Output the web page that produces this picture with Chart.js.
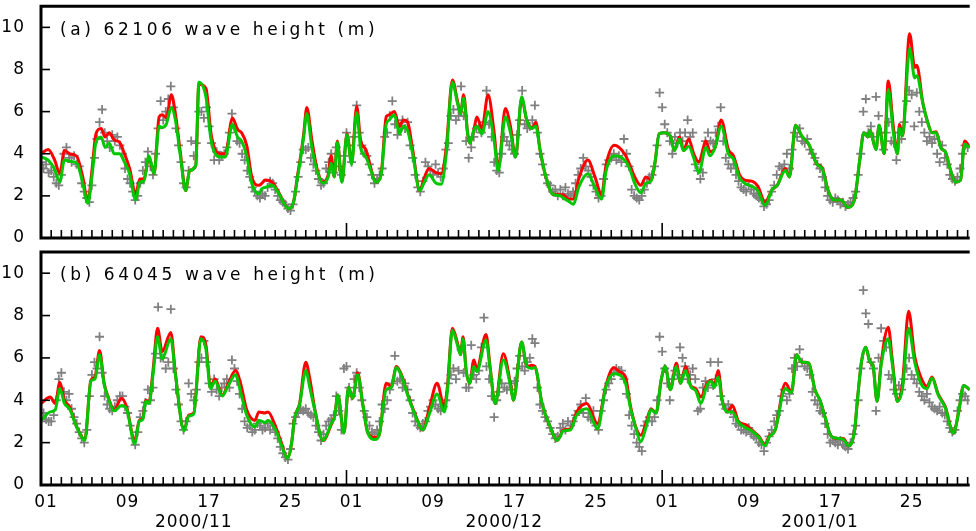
<!DOCTYPE html>
<html>
<head>
<meta charset="utf-8">
<script src="https://cdn.jsdelivr.net/npm/chart.js@4.4.1/dist/chart.umd.min.js"></script>
<style>
  body { margin: 0; background: #fff; }
  #wrap { position: relative; width: 976px; height: 531px; overflow: hidden; }
  canvas { position: absolute; left: 0; }
  .ttl { position: absolute; left: 60px; font: 17px "DejaVu Sans"; line-height: 20px; letter-spacing: 3.6px; white-space: nowrap; color: #000; }
</style>
</head>
<body>
<div id="wrap">
  <canvas id="chartA" width="976" height="245" style="top:0"></canvas>
  <canvas id="chartB" width="976" height="286" style="top:245px"></canvas>
  <div class="ttl" style="top:19px">(a) 62106 wave height (m)</div>
  <div class="ttl" style="top:264px">(b) 64045 wave height (m)</div>
</div>
<script>
// time axis: days since 2000/11/01 00:00
const xTickPos = [0.5, 8.5, 15, 16.5, 24.5, 30.5, 38.5, 45.5, 46.5, 54.5, 61.5, 69.5, 76.5, 77.5, 85.5];
const xTickText = ['01', '09', ['', '2000/11'], '17', '25', '01', '09', ['', '2000/12'], '17', '25', '01', '09', ['', '2001/01'], '17', '25'];
const monthStarts = [0, 30, 61];
const yTicks = [0, 2, 4, 6, 8, 10];
const OBS_STEP = 0.25;

// (a) 62106
const topT = [0.0,0.7,1.3,1.85,2.3,2.8,3.3,3.6,4.1,4.6,
  5.0,5.4,5.9,6.3,6.7,7.2,7.7,8.2,8.7,9.3,
  9.7,10.1,10.6,11.1,11.6,11.9,12.3,12.8,13.2,13.7,
  14.2,14.6,15.2,15.5,16.2,16.7,17.1,17.6,18.1,18.8,
  19.3,19.7,20.2,20.7,21.4,21.7,22.0,22.7,23.3,24.3,
  24.8,25.2,25.5,25.8,26.1,26.6,27.1,27.7,28.2,28.5,
  28.8,29.1,29.55,30.05,30.5,31.0,31.4,31.9,32.4,32.85,
  33.4,33.9,34.2,34.7,35.2,35.6,36.0,36.5,37.2,37.6,
  38.1,38.8,39.3,39.8,40.4,40.9,41.2,41.5,41.9,42.1,
  42.5,42.8,43.3,43.9,44.5,44.9,45.6,46.1,46.6,47.2,
  47.7,48.2,48.6,49.0,49.5,50.2,51.0,51.3,51.8,52.3,
  52.8,53.7,54.4,55.05,55.5,56.3,57.3,57.8,58.3,58.9,
  59.4,59.9,60.3,60.7,61.2,61.8,62.2,62.7,63.1,63.6,
  64.1,64.6,65.3,65.7,66.2,66.8,67.5,68.0,68.6,69.1,
  69.8,70.4,71.1,71.8,72.3,73.1,73.5,74.1,74.7,75.4,
  76.2,76.7,77.3,77.9,78.6,79.2,79.9,80.4,80.8,81.2,
  81.4,82.0,82.3,82.8,83.2,83.7,84.1,84.3,84.6,85.3,
  85.8,86.0,86.6,87.1,87.5,87.9,88.4,88.8,89.3,89.8,
  90.3,90.7,91.2];
const topRed = [4.0,4.2,3.75,3.07,4.15,4.0,3.95,3.8,2.9,1.7,
  3.2,4.95,5.2,4.8,5.0,4.65,4.55,4.0,3.3,2.1,
  2.8,2.8,3.85,3.05,5.75,5.85,5.7,6.8,5.9,4.0,
  2.25,3.2,3.45,7.3,7.1,4.95,4.2,4.0,4.0,5.7,
  5.15,5.0,4.4,2.9,2.5,2.6,2.75,2.65,2.2,1.4,
  1.7,3.0,3.9,4.95,6.2,4.65,3.3,2.65,3.0,3.9,
  2.9,4.6,2.67,4.95,3.6,6.25,4.6,4.2,3.3,2.65,
  3.05,5.75,5.85,6.0,5.3,5.6,5.5,4.2,2.25,2.8,
  3.3,3.1,3.05,4.3,7.5,6.5,5.9,6.8,4.95,4.5,
  5.1,5.75,5.2,6.8,5.0,3.3,6.15,5.3,3.85,6.6,
  5.6,5.2,5.5,4.2,3.05,2.1,2.05,2.05,1.85,1.85,
  2.8,3.7,2.9,2.05,3.5,4.4,4.0,3.5,2.9,2.5,
  2.9,2.75,3.6,4.95,5.0,4.85,4.15,4.8,4.15,4.7,
  4.0,3.6,4.6,4.1,4.3,5.6,4.2,3.9,3.0,2.75,
  2.7,2.45,1.7,2.3,2.5,3.3,2.9,5.35,4.85,4.45,
  3.5,3.35,2.25,1.8,1.8,1.45,1.85,3.7,5.0,4.8,
  5.1,4.2,5.35,4.0,7.45,5.3,4.0,5.4,4.85,9.7,
  8.1,8.2,6.4,5.45,5.0,5.05,4.25,4.1,3.25,2.65,
  2.75,4.6,4.3];
const topGreen = [3.85,3.7,3.3,2.67,3.7,3.65,3.6,3.5,2.6,1.65,
  2.9,4.55,4.8,4.3,4.5,4.0,4.0,3.6,3.05,1.8,
  2.65,2.7,3.9,3.05,5.3,5.25,5.4,6.2,5.6,3.85,
  2.25,3.2,3.45,7.4,6.7,4.65,4.0,3.85,3.85,5.4,
  4.8,4.6,3.9,2.6,2.1,2.35,2.4,2.5,2.15,1.4,
  1.7,2.9,3.8,4.8,5.9,4.3,3.2,2.6,2.9,3.55,
  2.9,4.55,2.65,4.9,3.5,5.95,4.25,3.85,3.2,2.65,
  3.0,5.4,5.6,5.85,4.95,5.3,5.1,4.0,2.25,2.6,
  3.0,2.6,2.55,4.0,7.4,6.4,5.9,6.65,4.95,4.5,
  5.1,5.3,4.95,6.0,4.6,3.2,5.75,5.0,3.85,6.7,
  5.6,5.2,5.3,4.2,3.05,2.1,2.0,1.9,1.75,1.6,
  2.4,3.05,2.4,1.85,3.2,3.9,3.7,3.3,2.6,2.15,
  2.6,2.7,3.6,4.95,5.0,4.85,4.15,4.7,4.15,4.35,
  3.8,3.1,4.3,3.9,4.3,5.3,4.0,3.75,2.85,2.6,
  2.45,2.25,1.55,2.3,2.5,3.2,2.9,5.35,4.85,4.45,
  3.5,3.3,2.25,1.8,1.8,1.45,1.85,3.7,5.0,4.8,
  5.1,4.2,5.35,4.0,7.05,5.0,4.0,5.2,4.85,9.0,
  7.6,7.7,6.4,5.45,5.0,5.0,4.25,4.1,3.25,2.65,
  2.75,4.45,4.3];
// buoy observations, every 6 h
const topObs = [
  3.6,3.3,3.5,3.1, 3.2,2.9,2.6,2.5, 3.0,4.0,4.3,3.8, 3.6,3.9,3.5,3.4, 2.6,2.2,1.9,1.7,
  2.5,3.8,4.7,5.5, 6.1,5.0,4.6,4.3, 4.9,4.6,4.8,4.4, 4.0,3.3,2.8,2.6, 2.2,1.8,2.0,2.6,
  3.2,3.6,4.1,3.4, 3.0,4.0,5.2,6.5, 5.6,6.0,6.6,7.2, 6.2,5.2,4.4,3.6, 2.6,2.4,3.2,4.6,
  3.9,4.5,6.0,6.0, 5.7,6.2,5.3,4.5, 3.7,4.1,3.7,3.9, 4.0,4.3,5.0,5.9, 5.2,4.6,4.5,4.0,
  3.7,3.2,2.9,2.4, 2.2,2.0,1.9,2.1, 2.0,2.4,2.7,2.6, 2.3,2.0,1.8,1.7, 1.6,1.4,1.3,1.6,
  2.2,2.9,3.6,4.2, 4.2,4.3,3.8,3.5, 3.2,2.8,2.5,2.6, 3.3,3.6,4.0,3.1, 4.3,3.4,3.0,3.9,
  5.0,4.4,3.6,4.8, 6.3,5.0,4.4,4.0, 3.9,3.5,3.0,2.6, 2.8,3.0,3.3,4.8, 5.0,5.8,6.5,5.4,
  4.9,5.3,5.6,5.2, 5.5,4.4,3.8,3.0, 2.4,2.2,2.7,3.6, 3.4,3.2,3.0,3.5, 3.1,2.9,3.3,4.2,
  4.5,5.8,6.1,5.6, 5.8,7.2,5.8,4.6, 3.8,4.3,4.8,5.2, 5.3,5.0,5.5,7.0, 5.4,4.8,3.6,3.2,
  3.1,4.0,4.8,4.6, 4.4,4.2,4.0,4.9, 5.6,7.0,5.4,5.2, 5.3,5.6,6.3,5.0, 4.0,3.5,3.0,2.6,
  2.5,2.2,2.3,2.0, 2.3,2.0,2.4,2.1, 2.0,2.2,2.6,3.0, 3.3,3.8,3.4,3.2, 2.9,2.5,2.2,1.9,
  2.0,2.8,3.5,3.7, 3.8,4.0,3.7,3.9, 3.6,4.7,4.0,3.4, 2.3,2.0,1.9,1.8, 2.0,2.3,2.6,2.9,
  3.0,3.4,4.4,6.9, 6.2,5.4,5.0,4.6, 4.0,4.8,4.5,5.0, 4.6,5.0,5.6,4.8, 5.0,3.5,3.2,2.8,
  3.1,4.6,5.0,4.6, 4.5,5.0,5.3,6.2, 4.6,3.8,3.5,3.3, 3.5,3.0,2.7,2.4, 2.3,2.2,2.5,2.3,
  2.1,2.0,1.9,1.8, 1.5,1.6,1.8,2.2, 2.5,3.0,3.4,3.3, 3.5,4.0,3.3,4.2, 5.0,4.8,5.2,4.6,
  4.5,4.7,4.2,4.0, 3.8,3.5,3.3,2.9, 2.4,2.0,1.8,1.7, 1.9,1.8,1.6,1.7, 1.5,1.6,1.7,1.9,
  2.2,3.0,4.0,6.0, 6.6,5.0,5.3,4.8, 6.7,5.8,5.0,4.2, 5.0,5.5,4.6,4.5, 3.7,5.0,4.7,5.5,
  6.5,7.0,6.8,5.3, 6.9,6.0,5.5,5.0, 4.6,4.8,4.5,4.7, 4.0,3.6,4.4,3.8, 3.5,3.0,2.8,2.7,
  2.9,3.3,4.0,4.4, 4.3];

// (b) 64045
const botT = [0.0,0.9,1.4,1.85,2.3,2.8,3.5,4.3,4.9,5.3,
  5.75,6.2,6.6,7.2,7.9,8.4,9.2,9.65,10.0,10.3,
  10.6,11.0,11.45,11.9,12.75,13.2,14.05,14.5,15.0,15.7,
  16.2,16.65,17.1,17.8,18.4,19.1,19.6,20.2,21.0,21.4,22.0,
  22.3,23.0,23.6,24.2,24.6,24.9,25.4,26.0,26.4,26.9,
  27.7,28.5,28.85,29.15,29.75,30.2,30.6,31.1,31.6,32.1,
  32.8,33.2,33.9,34.4,34.9,35.4,36.0,36.7,37.5,38.1,
  38.9,39.6,39.9,40.4,40.9,41.2,41.45,41.75,42.1,42.5,
  42.8,43.7,44.1,44.6,45.4,46.1,46.4,47.2,47.7,48.2,
  48.5,49.2,50.0,50.7,51.3,52.0,52.6,53.6,54.65,55.45,
  56.25,56.8,57.4,57.9,58.4,58.9,59.4,59.9,60.4,60.9,
  61.3,61.8,62.4,62.8,63.3,63.8,64.3,64.8,65.4,65.8,
  66.1,66.5,66.9,67.4,67.9,68.5,69.2,69.8,70.5,71.1,
  71.5,72.1,73.1,73.7,74.2,74.7,75.4,76.0,76.5,77.0,
  77.6,78.3,78.8,79.3,79.9,80.2,80.6,81.0,81.4,81.7,
  82.1,82.5,83.2,83.6,84.1,84.6,85.2,85.8,86.4,87.0,
  87.5,88.1,88.8,89.6,90.1,90.6,91.2];
const botRed = [3.85,4.15,3.85,4.85,4.0,3.7,2.75,2.15,4.95,5.1,
  6.35,4.8,4.15,3.55,4.1,3.7,2.1,3.05,3.15,4.0,
  3.9,5.4,7.4,6.3,7.2,5.25,2.6,3.3,3.4,7.0,
  6.6,4.65,5.0,4.25,4.8,5.4,4.8,3.55,3.05,3.45,3.4,
  3.45,2.8,2.0,1.25,1.95,3.15,3.85,5.8,5.0,3.55,
  2.1,2.85,3.3,4.25,2.45,4.6,4.1,5.3,3.8,2.45,
  2.25,2.35,4.8,4.65,5.6,5.2,4.3,3.4,2.6,3.55,
  4.8,3.7,4.6,7.4,6.7,6.15,7.0,5.4,4.8,5.9,
  5.5,7.1,5.6,3.85,6.2,4.8,4.0,6.75,5.6,5.65,
  5.6,3.85,2.75,2.1,2.6,2.65,3.45,3.85,2.9,4.65,
  5.55,5.35,5.1,3.7,2.75,2.35,2.9,3.6,3.4,4.95,
  5.6,4.5,5.75,4.8,5.6,4.7,4.55,4.15,4.8,4.95,
  4.65,5.4,4.0,3.45,3.75,3.0,2.85,2.6,2.3,1.9,
  2.3,2.6,4.8,4.4,6.15,5.8,5.75,4.5,4.0,3.2,
  2.3,2.2,2.2,1.85,2.6,4.15,5.9,6.5,5.8,5.65,
  3.95,5.75,7.45,5.9,3.95,4.8,8.2,6.05,5.1,4.65,
  5.1,4.3,3.7,2.45,3.4,4.7,4.5];
const botGreen = [3.05,3.45,3.55,4.55,3.85,3.6,2.75,2.1,4.9,5.0,
  6.15,4.75,4.1,3.5,3.75,3.6,1.95,3.0,3.1,3.95,
  3.85,5.2,7.0,5.95,6.9,5.2,2.55,3.25,3.35,6.9,
  6.4,4.55,4.9,4.2,4.7,5.2,4.4,3.3,2.75,3.05,2.95,
  3.05,2.65,1.9,1.25,1.95,3.15,3.8,5.4,4.6,3.5,
  2.1,2.9,3.25,4.25,2.45,4.6,4.1,5.2,3.8,2.45,
  2.15,2.35,4.5,4.6,5.55,5.15,4.25,3.35,2.6,3.3,
  4.3,3.45,4.4,7.3,6.6,6.15,6.9,5.4,4.8,5.6,
  5.35,6.85,5.5,3.85,5.9,4.7,4.0,6.75,5.6,5.5,
  5.55,3.85,2.75,2.1,2.55,2.6,3.3,3.6,2.65,4.6,
  5.25,5.2,4.8,3.6,2.7,2.05,2.7,3.55,3.4,4.95,
  5.6,4.5,5.6,4.8,5.4,4.65,4.45,3.85,4.7,4.9,
  4.6,5.1,3.95,3.45,3.45,2.95,2.7,2.55,2.25,1.85,
  2.25,2.6,4.55,4.35,6.15,5.8,5.75,4.5,4.0,3.2,
  2.3,2.2,2.15,1.85,2.6,4.15,5.9,6.5,5.8,5.65,
  3.95,5.65,6.9,5.7,3.95,4.55,7.4,5.8,4.8,4.55,
  5.05,4.25,3.65,2.45,3.4,4.7,4.5];
const botObs = [
  3.0,3.4,3.1,3.0, 3.0,3.3,4.0,5.0, 5.3,4.4,4.0,4.3, 3.6,3.2,2.9,2.5, 2.2,2.0,2.6,4.2,
  5.2,5.8,5.5,7.0, 5.3,4.2,3.8,3.6, 3.5,3.7,4.0,4.2, 4.2,3.7,3.4,2.8, 2.2,1.9,2.5,3.2,
  3.5,3.9,4.5,4.0, 4.6,6.2,8.4,6.0, 6.0,5.5,5.8,8.3, 5.5,4.5,3.8,3.0, 2.6,3.0,4.8,4.3,
  4.0,4.5,5.8,6.0, 6.8,5.8,4.8,4.4, 5.0,4.5,4.2,4.6, 4.8,5.0,4.6,5.9, 5.5,4.9,4.3,3.6,
  3.0,2.7,2.8,2.5, 2.6,2.9,2.8,2.6, 2.7,2.9,2.6,2.8, 2.5,2.2,1.8,1.5, 1.3,1.2,1.7,2.9,
  3.2,3.4,3.6,3.5, 3.6,3.4,3.3,3.2, 2.8,2.5,2.1,2.4, 2.8,3.0,3.1,3.3, 4.2,3.5,2.6,5.5,
  5.6,4.6,4.2,5.0, 5.3,4.6,4.0,3.5, 3.2,2.8,2.5,2.4, 2.6,3.0,3.8,3.6, 4.0,4.5,4.8,6.1,
  4.9,5.0,4.6,4.8, 4.5,4.0,3.4,3.0, 2.8,2.7,2.9,3.0, 3.5,3.7,4.0,3.8, 3.6,3.5,3.7,4.0,
  4.8,5.2,5.5,5.0, 5.4,6.4,5.3,4.6, 4.6,6.6,5.2,5.0, 5.4,6.5,7.9,5.6, 5.0,4.2,3.2,4.0,
  4.4,4.8,4.6,4.5, 4.8,4.5,4.9,5.5, 6.1,5.6,5.4,5.8, 6.0,6.9,6.7,4.6, 3.8,3.5,3.2,3.0,
  2.7,2.4,2.2,2.3, 2.7,2.9,2.6,3.0, 2.8,3.0,3.3,3.5, 3.8,3.4,4.1,3.2, 3.1,3.5,2.8,2.6,
  3.5,4.0,4.5,4.8, 5.0,5.3,5.5,5.4, 5.4,5.0,4.3,3.3, 2.8,2.4,2.0,1.8, 1.6,2.8,3.0,3.2,
  3.0,3.2,4.0,7.0, 6.3,5.5,4.8,4.0, 5.0,5.4,5.2,6.5, 6.0,5.6,5.0,5.2, 5.5,5.0,3.5,3.6,
  4.6,4.9,4.6,5.8, 4.7,5.0,5.8,4.2, 3.8,3.6,3.8,3.5, 3.2,2.9,2.8,2.6, 2.6,2.5,2.7,2.4,
  2.3,2.2,2.0,1.9, 1.6,2.0,2.3,2.6, 3.0,3.3,3.5,4.2, 4.5,4.0,4.3,5.5, 6.0,5.6,6.4,5.8,
  5.6,5.5,5.2,4.4, 4.0,3.8,3.5,3.4, 2.9,2.4,2.0,2.1, 2.0,1.9,2.1,1.9, 1.8,1.7,2.0,2.4,
  2.8,4.0,5.5,9.2, 8.1,7.6,5.8,5.5, 3.5,6.0,7.4,6.8, 6.5,5.2,5.0,4.5, 4.3,4.7,4.5,5.0,
  5.5,6.0,5.2,5.0, 4.8,4.4,4.2,4.0, 4.3,3.9,3.7,3.6, 3.5,3.7,3.4,3.3, 3.0,2.7,2.5,2.6,
  3.5,4.0,4.3,4.2, 4.0];

const framePlugin = {
  id: 'frame',
  beforeDraw(chart) {
    chart.ctx.letterSpacing = '1px';
  },
  afterDatasetsDraw(chart) {
    const { ctx, chartArea: a, scales: { x, y } } = chart;
    ctx.save();
    ctx.strokeStyle = '#000';
    ctx.lineWidth = 1.6;
    for (let d = 0; d <= 91; d++) {
      const px = x.getPixelForValue(d);
      const len = monthStarts.includes(d) ? 15 : 8;
      ctx.beginPath();
      ctx.moveTo(px, a.bottom);
      ctx.lineTo(px, a.bottom - len);
      ctx.stroke();
    }
    yTicks.forEach(v => {
      const py = y.getPixelForValue(v);
      ctx.beginPath();
      ctx.moveTo(a.left, py);
      ctx.lineTo(a.left + 9, py);
      ctx.stroke();
    });
    ctx.lineWidth = 3;
    ctx.beginPath();
    ctx.moveTo(a.right, a.top);
    ctx.lineTo(a.left, a.top);
    ctx.lineTo(a.left, a.bottom);
    ctx.lineTo(a.right, a.bottom);
    ctx.stroke();
    ctx.restore();
  }
};

function makePanel(id, times, red, green, obs, withLabels, padTop, xHeight) {
  const font = { family: 'DejaVu Sans', size: 17, lineHeight: 1.15 };
  new Chart(document.getElementById(id), {
    type: 'line',
    data: {
      datasets: [
        {
          label: 'green', order: 0,
          data: times.map((t, i) => ({ x: t, y: green[i] })),
          borderColor: '#00c800', borderWidth: 3, pointRadius: 0,
          cubicInterpolationMode: 'monotone'
        },
        {
          label: 'red', order: 1,
          data: times.map((t, i) => ({ x: t, y: red[i] })),
          borderColor: '#ff0000', borderWidth: 3, pointRadius: 0,
          cubicInterpolationMode: 'monotone'
        },
        {
          label: 'obs', order: 2, showLine: false,
          data: obs.map((v, i) => ({ x: i * OBS_STEP, y: v })),
          pointStyle: 'cross', pointRadius: 4.5,
          pointBorderColor: '#808080', pointBorderWidth: 1.8, borderColor: '#808080'
        }
      ]
    },
    options: {
      responsive: false,
      animation: false,
      layout: { padding: { top: padTop, left: 0, right: 0, bottom: 0 } },
      plugins: { legend: { display: false }, tooltip: { enabled: false } },
      scales: {
        x: {
          type: 'linear', min: 0, max: 91.2,
          grid: { display: false }, border: { display: false },
          ticks: {
            display: withLabels, autoSkip: false, maxRotation: 0, minRotation: 0,
            padding: 0, color: '#000', font,
            callback: (v, i) => xTickText[i]
          },
          afterBuildTicks: s => { s.ticks = xTickPos.map(v => ({ value: v })); },
          afterFit: s => { s.height = xHeight; s.paddingLeft = 0; s.paddingRight = 0; }
        },
        y: {
          min: 0, max: 11,
          grid: { display: false }, border: { display: false },
          ticks: { padding: 8, color: '#000', font },
          afterBuildTicks: s => { s.ticks = yTicks.map(v => ({ value: v })); },
          afterFit: s => { s.width = 41; s.paddingTop = 0; s.paddingBottom = 0; }
        }
      }
    },
    plugins: [framePlugin]
  });
}

makePanel('chartA', topT, topRed, topGreen, topObs, false, 6, 7);
makePanel('chartB', botT, botRed, botGreen, botObs, true, 7, 46);
</script>
</body>
</html>
